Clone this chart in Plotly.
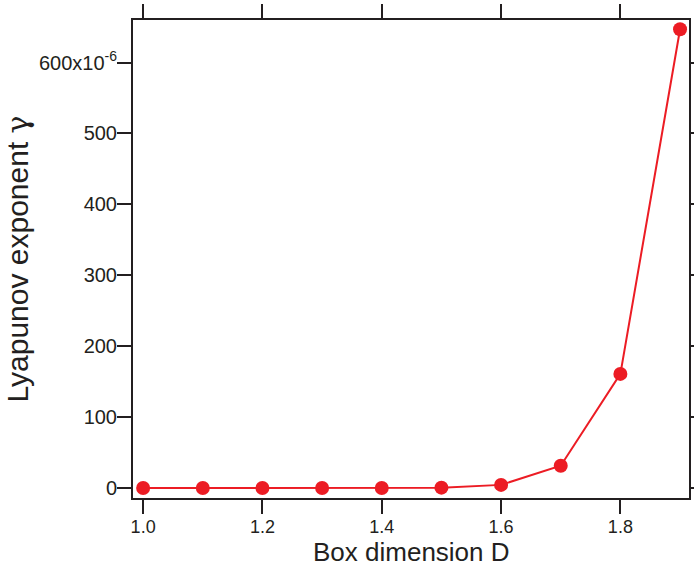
import plotly.graph_objects as go

# Box dimension vs. Lyapunov exponent (in units of 1e-6)
box_dimension = [1.0, 1.1, 1.2, 1.3, 1.4, 1.5, 1.6, 1.7, 1.8, 1.9]
lyapunov = [0.0, 0.0, 0.0, 0.0, 0.1, 0.6, 4.5, 31.5, 161.0, 647.0]

x_ticks = [1.0, 1.2, 1.4, 1.6, 1.8]
x_tick_labels = ["1.0", "1.2", "1.4", "1.6", "1.8"]
y_ticks = [0, 100, 200, 300, 400, 500, 600]
y_tick_labels = ["0", "100", "200", "300", "400", "500", "600x10<sup>-6</sup>"]

RED = "#ec1c24"
AXIS = "#231f20"
FONT = "Liberation Sans, Arial, sans-serif"

fig = go.Figure(
    go.Scatter(
        x=box_dimension,
        y=lyapunov,
        mode="lines+markers",
        line=dict(color=RED, width=2),
        marker=dict(color=RED, size=14),
        showlegend=False,
    )
)

axis_common = dict(
    showgrid=False,
    zeroline=False,
    showline=True,
    linecolor=AXIS,
    linewidth=2,
    mirror="allticks",
    ticks="outside",
    ticklen=14,
    tickwidth=2,
    tickcolor=AXIS,
    automargin=False,
)

fig.update_xaxes(
    range=[0.983, 1.915],
    tickvals=x_ticks,
    ticktext=x_tick_labels,
    ticklabelstandoff=-3,
    tickfont=dict(family=FONT, size=18, color=AXIS),
    **axis_common,
)
fig.update_yaxes(
    range=[-14, 660],
    tickvals=y_ticks,
    ticktext=y_tick_labels,
    ticklabelstandoff=-4,
    tickfont=dict(family=FONT, size=20, color=AXIS),
    title=dict(
        text="Lyapunov exponent <span style='font-family:DejaVu Serif'>γ</span>",
        font=dict(family=FONT, size=30, color=AXIS),
    ),
    **axis_common,
)

# x-axis title placed just above the bottom edge of the page
fig.add_annotation(
    text="Box dimension D",
    xref="paper",
    yref="paper",
    x=0.5,
    y=0,
    xanchor="center",
    yanchor="bottom",
    yshift=-70,
    borderpad=0,
    showarrow=False,
    font=dict(family=FONT, size=26, color=AXIS),
)

fig.update_layout(
    width=694,
    height=566,
    margin=dict(l=133, r=5, t=20, b=68),
    paper_bgcolor="white",
    plot_bgcolor="white",
)

fig.write_html("out.html")
